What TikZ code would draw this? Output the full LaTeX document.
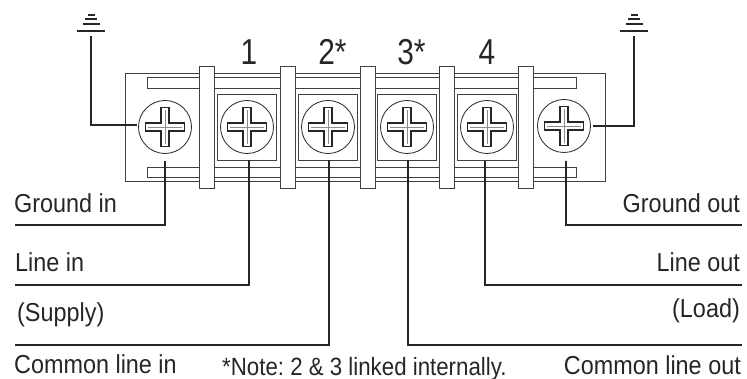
\documentclass[tikz,border=0pt]{standalone}
\usepackage{fontspec}
\setmainfont{Liberation Sans}
\usetikzlibrary{positioning}

\tikzset{
  wire/.style={line width=1.3pt,draw=black!85},
  edgeline/.style={line width=0.9pt,draw=black!75},
  barrier/.style={edgeline,fill=white},
  screw/.style={circle,draw=black!85,line width=0.8pt,fill=white,minimum size=53pt,inner sep=0pt},
  seat/.style={rectangle,edgeline,minimum width=59pt,minimum height=66pt,inner sep=0pt},
  wirelabel/.style={font=\fontsize{26}{28}\selectfont\frenchspacing,text=black!85,inner sep=0pt,xscale=0.9,anchor=base west},
  wirelabelr/.style={wirelabel,anchor=base east},
  notelabel/.style={wirelabel,xscale=0.99,font=\fontsize{25}{28}\selectfont\frenchspacing},
  numlabel/.style={font=\fontsize{36}{38}\selectfont,text=black!85,inner sep=0pt,xscale=0.83,anchor=base},
}

% cross head of a screw, drawn at the node given
\newcommand{\crosshead}[1]{
  \draw[line width=1.2pt,draw=black!85,fill=white] (#1) ++(-19.5,-4) -- ++(15.5,0) -- ++(0,-15.5) -- ++(8,0) -- ++(0,15.5) -- ++(15.5,0) -- ++(0,8) -- ++(-15.5,0) -- ++(0,15.5) -- ++(-8,0) -- ++(0,-15.5) -- ++(-15.5,0) -- cycle;
  \draw[line width=0.4pt,draw=black!45] (#1) ++(-17,0) -- ++(34,0) (#1) ++(0,-17) -- ++(0,34);
}

% ground symbol, four bars narrowing upwards
\newcommand{\groundmark}[1]{
  \draw[line width=1.2pt,draw=black!85] (#1) ++(-14,0) -- ++(28,0) (#1) ++(-8.5,-7) -- ++(17,0) (#1) ++(-6,-12) -- ++(12,0) (#1) ++(-3.5,-16) -- ++(7,0);
}

\begin{document}
\begin{tikzpicture}[x=1pt,y=-1pt]
\useasboundingbox (0,0) rectangle (747,379);

% body and slots
\draw[edgeline] (125,73) rectangle (605,181);
\draw[edgeline] (147,77) rectangle (576,88);
\draw[edgeline] (147,167) rectangle (576,177);

% screw seats
\node[seat] (seatA) at (246.5,127) {};
\node[seat] (seatB) at (327.5,127) {};
\node[seat] (seatC) at (407,127) {};
\node[seat] (seatD) at (486.5,127) {};

% barriers
\foreach \x in {199,280,360,439,518}
  \draw[barrier] (\x,66) rectangle ++(15,122);

% screws
\node[screw] (groundIn) at (165,127) {};
\node[screw] (lineIn) at (247,127) {};
\node[screw] (commonIn) at (328,127) {};
\node[screw] (commonOut) at (407,127) {};
\node[screw] (lineOut) at (487,127) {};
\node[screw] (groundOut) at (564,126) {};
\foreach \s in {groundIn,lineIn,commonIn,commonOut,lineOut,groundOut}
  \crosshead{\s};

% terminal numbers
\node[numlabel] (numA) at (249,65) {1};
\node[numlabel] (numB) at (332.5,65) {2*};
\node[numlabel] (numC) at (411.5,65) {3*};
\node[numlabel] (numD) at (487,65) {4};

% ground marks
\coordinate (earthL) at (91,31);
\coordinate (earthR) at (634,31);
\groundmark{earthL}
\groundmark{earthR}
\coordinate (earthLtop) at (91,36);
\coordinate (earthRtop) at (634,36);
\coordinate (groundInTip) at (137,125);
\coordinate (groundOutTip) at (593,126);

% wire ends
\coordinate (groundInFoot) at (165,161);
\coordinate (lineInFoot) at (249,160);
\coordinate (commonInFoot) at (329,160);
\coordinate (commonOutFoot) at (408,160);
\coordinate (lineOutFoot) at (485,161);
\coordinate (groundOutFoot) at (566,161);
\coordinate (groundInEnd) at (15,225);
\coordinate (lineInEnd) at (15,285);
\coordinate (commonInEnd) at (15,345);
\coordinate (commonOutEnd) at (742,345);
\coordinate (lineOutEnd) at (742,285);
\coordinate (groundOutEnd) at (742,225);

% wires
\draw[wire] (earthLtop) |- (groundInTip);
\draw[wire] (earthRtop) |- (groundOutTip);
\draw[wire] (groundInFoot) |- (groundInEnd);
\draw[wire] (lineInFoot) |- (lineInEnd);
\draw[wire] (commonInFoot) |- (commonInEnd);
\draw[wire] (commonOutFoot) |- (commonOutEnd);
\draw[wire] (lineOutFoot) |- (lineOutEnd);
\draw[wire] (groundOutFoot) |- (groundOutEnd);

% labels
\node[wirelabel] (groundInText) at (14,213) {Ground in};
\node[wirelabel] (lineInText) at (15,272) {Line in};
\node[wirelabel] (supplyText) at (17,322) {(Supply)};
\node[wirelabel] (commonInText) at (14,373) {Common line in};
\node[notelabel] (noteText) at (222,375) {*Note: 2 \& 3 linked internally.};
\node[wirelabelr] (groundOutText) at (740,213) {Ground out};
\node[wirelabelr] (lineOutText) at (740,272) {Line out};
\node[wirelabelr] (loadText) at (740,318) {(Load)};
\node[wirelabelr] (commonOutText) at (741,374) {Common line out};

\end{tikzpicture}
\end{document}
